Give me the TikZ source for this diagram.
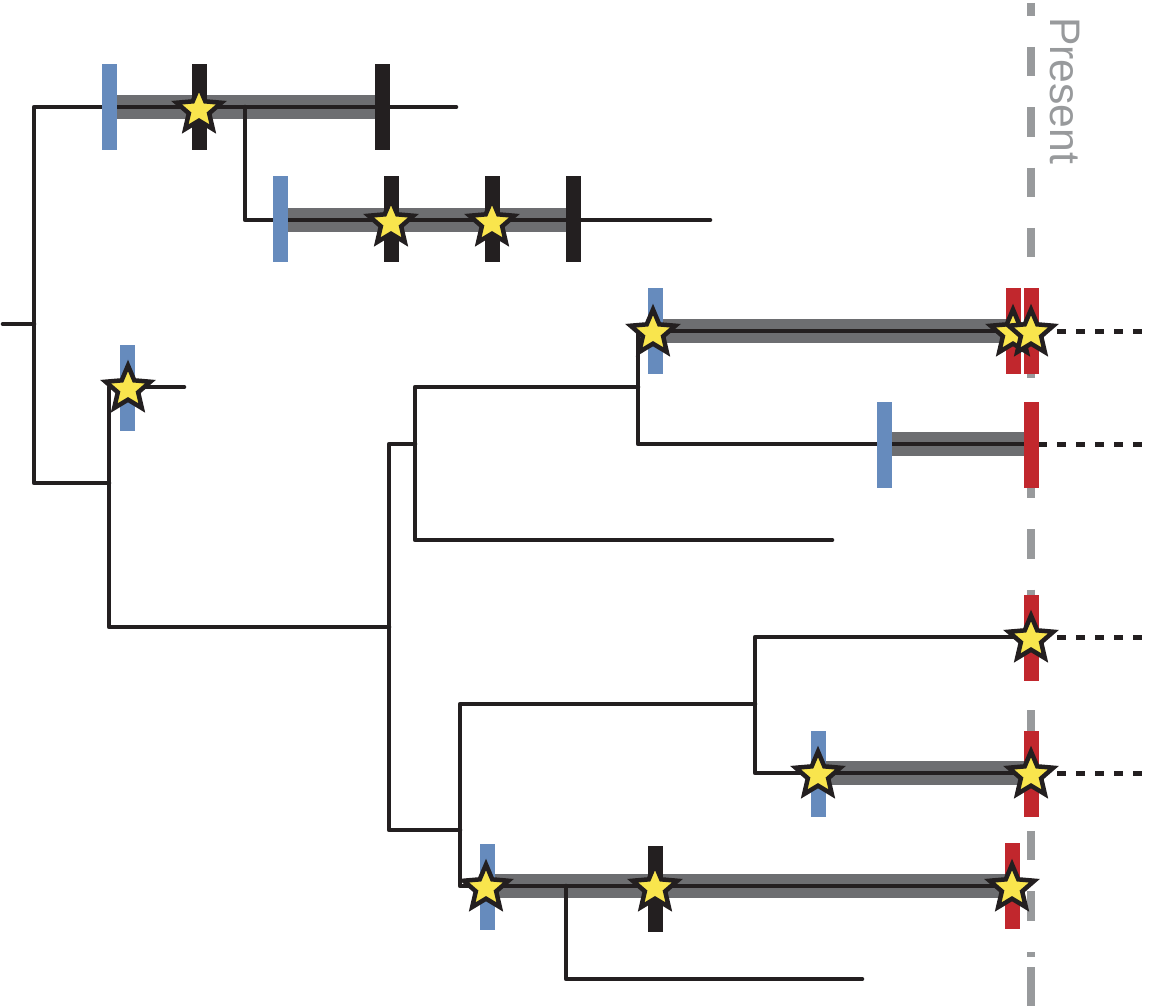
\documentclass[tikz,border=0pt]{standalone}
\usepackage{fontspec}
\newfontfamily\presentfont{Liberation Sans}
\usetikzlibrary{shapes.geometric}
\definecolor{linek}{HTML}{231F20}
\definecolor{bargray}{HTML}{6D6E71}
\definecolor{mblue}{HTML}{668BBD}
\definecolor{mred}{HTML}{C1272D}
\definecolor{staryel}{HTML}{F9E54D}
\definecolor{presgray}{HTML}{989A9C}
\newcommand{\markerbar}[3]{\fill[#1] ({#2-7.5},{#3-43}) rectangle ({#2+7.5},{#3+43});}
\begin{document}
\begin{tikzpicture}[x=1pt,y=-1pt,
  tree/.style={draw=linek,line width=4.6pt,line cap=round,line join=round},
  dotline/.style={draw=linek,line width=5pt,dash pattern=on 9pt off 10pt},
  rangebar/.style={draw=bargray,line width=24pt},
  presline/.style={draw=presgray,line width=8.5pt},
  starnode/.style={star,star points=5,star point ratio=2.2,minimum size=47pt,inner sep=0pt,
                   fill=staryel,draw=linek,line width=4.5pt}]
\useasboundingbox (0,0) rectangle (1150,1006);

% ---- named coordinates of the tree ----
\coordinate (R0) at (3,324);   \coordinate (R1) at (34,324);
\coordinate (A1) at (34,107);  \coordinate (A2) at (34,483);
\coordinate (T1) at (456,107);
\coordinate (B0) at (245,107); \coordinate (B1) at (245,220); \coordinate (T2) at (710,220);
\coordinate (C0) at (109,483); \coordinate (C1) at (109,387); \coordinate (C2) at (109,627);
\coordinate (T3) at (184,387);
\coordinate (D0) at (389,627); \coordinate (D1) at (389,444); \coordinate (D2) at (389,830);
\coordinate (E0) at (415,444); \coordinate (E1) at (415,387); \coordinate (E2) at (415,540);
\coordinate (T4) at (832,540);
\coordinate (F0) at (638,387); \coordinate (F1) at (638,331); \coordinate (F2) at (638,444);
\coordinate (T5) at (1031,331); \coordinate (T6) at (1031,444);
\coordinate (G0) at (460,830); \coordinate (G1) at (460,704); \coordinate (G2) at (460,886);
\coordinate (H0) at (755,704); \coordinate (H1) at (755,637); \coordinate (H2) at (755,773);
\coordinate (T7) at (1031,637); \coordinate (T8) at (1031,773);
\coordinate (T9) at (1025,886);
\coordinate (K0) at (566,886); \coordinate (K1) at (566,979); \coordinate (T10) at (862,979);
% dotted continuations
\coordinate (P5) at (1038,331); \coordinate (Q5) at (1150,331);
\coordinate (P6) at (1038,444); \coordinate (Q6) at (1150,444);
\coordinate (P7) at (1038,637); \coordinate (Q7) at (1150,637);
\coordinate (P8) at (1038,773); \coordinate (Q8) at (1150,773);
% present line
\coordinate (PT) at (1031,3); \coordinate (PB) at (1031,950);
\coordinate (PC) at (1031,952); \coordinate (PD) at (1031,957);
\coordinate (PE) at (1031,967); \coordinate (PF) at (1031,1006);

% ---- present line ----
\draw[presline,dash pattern=on 29.3pt off 31pt,dash phase=16.3pt] (PT) -- (PB);
\draw[presline] (PC) -- (PD);
\draw[presline] (PE) -- (PF);

% ---- grey range bars ----
\draw[rangebar] (109,107) -- (382,107);
\draw[rangebar] (280,220) -- (573,220);
\draw[rangebar] (655,331) -- (1013,331);
\draw[rangebar] (884,444) -- (1031,444);
\draw[rangebar] (818,773) -- (1031,773);
\draw[rangebar] (487,886) -- (1012,886);

% ---- tree ----
\draw[tree] (R0) -- (R1);
\draw[tree] (T1) -- (A1) -- (A2) -- (C0);
\draw[tree] (B0) -- (B1) -- (T2);
\draw[tree] (T3) -- (C1) -- (C2) -- (D0);
\draw[tree] (E0) -- (D1) -- (D2) -- (G0);
\draw[tree] (F0) -- (E1) -- (E2) -- (T4);
\draw[tree] (T5) -- (F1) -- (F2) -- (T6);
\draw[tree] (H0) -- (G1) -- (G2) -- (T9);
\draw[tree] (T7) -- (H1) -- (H2) -- (T8);
\draw[tree] (K0) -- (K1) -- (T10);

% ---- dotted extensions ----
\draw[dotline] (P5) -- (Q5);
\draw[dotline] (P6) -- (Q6);
\draw[dotline] (P7) -- (Q7);
\draw[dotline] (P8) -- (Q8);

% ---- marker bars ----
\markerbar{mblue}{109}{107}
\markerbar{mblue}{280}{219}
\markerbar{mblue}{127}{387.5}
\markerbar{mblue}{655}{330.5}
\markerbar{mblue}{884}{444.5}
\markerbar{mblue}{818}{774}
\markerbar{mblue}{487}{887}
\markerbar{linek}{199}{107}
\markerbar{linek}{382}{107}
\markerbar{linek}{391}{219}
\markerbar{linek}{492}{219}
\markerbar{linek}{573}{219}
\markerbar{linek}{655}{889}
\markerbar{mred}{1013}{330.5}
\markerbar{mred}{1031}{330.5}
\markerbar{mred}{1031}{444.5}
\markerbar{mred}{1031}{638}
\markerbar{mred}{1031}{774}
\markerbar{mred}{1012}{886}

% ---- stars ----
\node[starnode] (s1) at (199,110) {};
\node[starnode] (s2) at (391,223) {};
\node[starnode] (s3) at (492,223) {};
\node[starnode] (s4) at (128,389) {};
\node[starnode] (s5) at (653,333) {};
\node[starnode] (s6) at (1013,333) {};
\node[starnode] (s7) at (1031,333) {};
\node[starnode] (s8) at (1031,639) {};
\node[starnode] (s9) at (818,775) {};
\node[starnode] (s10) at (1031,775) {};
\node[starnode] (s11) at (486,888) {};
\node[starnode] (s12) at (655,888) {};
\node[starnode] (s13) at (1012,888) {};

% ---- label ----
\node[text=presgray,rotate=-90,anchor=base west,inner sep=0pt,
      font=\presentfont\fontsize{42.7}{42.7}\selectfont] (present) at (1050,17) {Present};
\end{tikzpicture}
\end{document}
